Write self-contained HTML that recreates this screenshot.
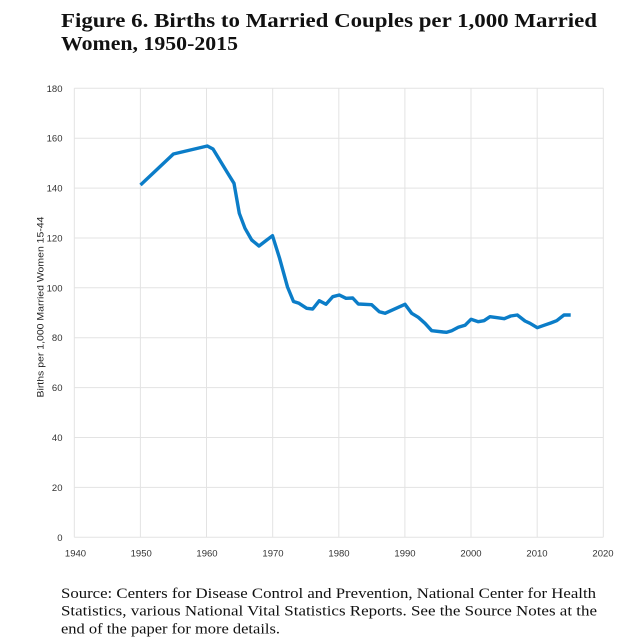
<!DOCTYPE html>
<html>
<head>
<meta charset="utf-8">
<style>
html,body{margin:0;padding:0;background:#fff;}
svg{display:block;}
</style>
</head>
<body>
<svg width="640" height="641" viewBox="0 0 640 641" xmlns="http://www.w3.org/2000/svg">
<rect width="640" height="641" fill="#fff"/>
<!-- Title -->
<text x="61" y="27" font-family="Liberation Serif, serif" font-weight="bold" font-size="19.5" fill="#111" textLength="536" lengthAdjust="spacingAndGlyphs">Figure 6. Births to Married Couples per 1,000 Married</text>
<text x="61" y="50" font-family="Liberation Serif, serif" font-weight="bold" font-size="19.5" fill="#111" textLength="177" lengthAdjust="spacingAndGlyphs">Women, 1950-2015</text>

<!-- Gridlines -->
<g stroke="#e3e3e3" stroke-width="1" fill="none">
<line x1="74.3" y1="88.3" x2="603.3" y2="88.3"/>
<line x1="74.3" y1="138.2" x2="603.3" y2="138.2"/>
<line x1="74.3" y1="188.1" x2="603.3" y2="188.1"/>
<line x1="74.3" y1="238" x2="603.3" y2="238"/>
<line x1="74.3" y1="287.8" x2="603.3" y2="287.8"/>
<line x1="74.3" y1="337.7" x2="603.3" y2="337.7"/>
<line x1="74.3" y1="387.6" x2="603.3" y2="387.6"/>
<line x1="74.3" y1="437.5" x2="603.3" y2="437.5"/>
<line x1="74.3" y1="487.4" x2="603.3" y2="487.4"/>
<line x1="74.3" y1="537.3" x2="603.3" y2="537.3"/>
<line x1="74.3" y1="88.3" x2="74.3" y2="537.3"/>
<line x1="140.4" y1="88.3" x2="140.4" y2="537.3"/>
<line x1="206.5" y1="88.3" x2="206.5" y2="537.3"/>
<line x1="272.7" y1="88.3" x2="272.7" y2="537.3"/>
<line x1="338.8" y1="88.3" x2="338.8" y2="537.3"/>
<line x1="404.9" y1="88.3" x2="404.9" y2="537.3"/>
<line x1="471" y1="88.3" x2="471" y2="537.3"/>
<line x1="537.2" y1="88.3" x2="537.2" y2="537.3"/>
<line x1="603.3" y1="88.3" x2="603.3" y2="537.3"/>
</g>

<!-- Y tick labels -->
<g font-family="Liberation Sans, sans-serif" font-size="9.5" fill="#333" text-anchor="end">
<text x="62.5" y="91.8">180</text>
<text x="62.5" y="141.7">160</text>
<text x="62.5" y="191.6">140</text>
<text x="62.5" y="241.5">120</text>
<text x="62.5" y="291.3">100</text>
<text x="62.5" y="341.2">80</text>
<text x="62.5" y="391.1">60</text>
<text x="62.5" y="441">40</text>
<text x="62.5" y="490.9">20</text>
<text x="62.5" y="540.8">0</text>
</g>

<!-- X tick labels -->
<g font-family="Liberation Sans, sans-serif" font-size="9.5" fill="#333" text-anchor="middle">
<text x="75.5" y="556.5">1940</text>
<text x="141.2" y="556.5">1950</text>
<text x="207" y="556.5">1960</text>
<text x="273" y="556.5">1970</text>
<text x="339" y="556.5">1980</text>
<text x="405" y="556.5">1990</text>
<text x="471" y="556.5">2000</text>
<text x="537" y="556.5">2010</text>
<text x="603" y="556.5">2020</text>
</g>

<!-- Y axis title -->
<text transform="translate(43.5,307) rotate(-90)" font-family="Liberation Sans, sans-serif" font-size="9.5" fill="#222" text-anchor="middle" textLength="181" lengthAdjust="spacingAndGlyphs">Births per 1,000 Married Women 15-44</text>

<!-- Data line -->
<polyline fill="none" stroke="#0b7dc8" stroke-width="3.4" stroke-linejoin="round" stroke-linecap="butt"
points="140.5,185 173.4,154 207.3,146 213,149 220,160.5 227,172 234,183.3 239.3,213.3 245,228.3 251.7,240 259,246 265.5,241 272.5,235.7 279.5,258 287.5,287 293.5,301.5 299,303.3 306.7,308.3 312.7,309 319.3,300.7 326,304.3 332.7,296.7 339.3,295 346,298.3 352.7,298 358.3,304 371.7,304.7 379.3,311.7 385,313.3 405,304.3 411.7,313.3 418.3,317.3 425,323.3 431.7,330.7 443.3,332 446.7,332.3 451.7,330.7 458.3,327.3 465,325.3 471,319.3 478.3,321.7 484,320.7 490,316.7 497.3,317.7 504.3,318.7 510.7,316 517.3,315 525,321 530,323.3 537.3,327.7 544,325.3 550.7,323 556.7,320.7 564,315 570.7,315"/>

<!-- Source -->
<g font-family="Liberation Serif, serif" font-size="15" fill="#111">
<text x="61" y="598" textLength="535" lengthAdjust="spacingAndGlyphs">Source: Centers for Disease Control and Prevention, National Center for Health</text>
<text x="61" y="615.7" textLength="536" lengthAdjust="spacingAndGlyphs">Statistics, various National Vital Statistics Reports. See the Source Notes at the</text>
<text x="61" y="633.3" textLength="219" lengthAdjust="spacingAndGlyphs">end of the paper for more details.</text>
</g>
</svg>
</body>
</html>
